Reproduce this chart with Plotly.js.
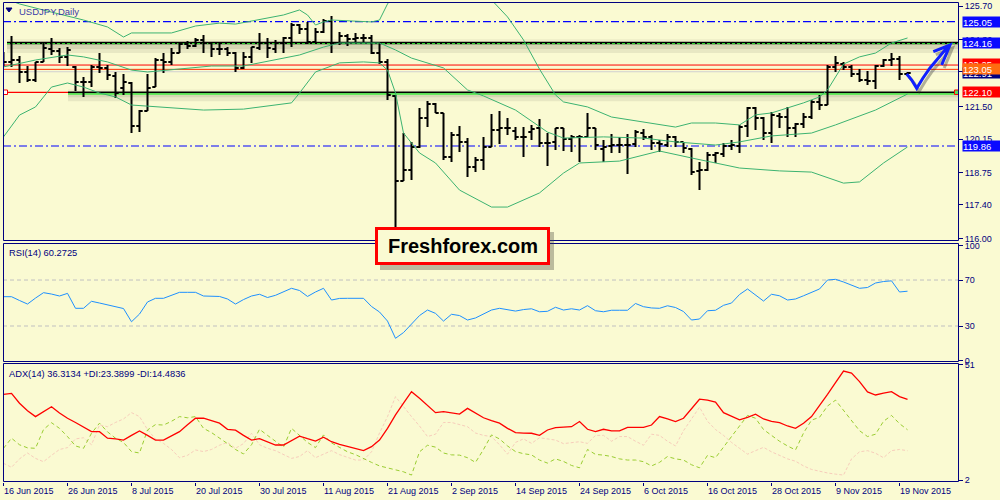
<!DOCTYPE html>
<html><head><meta charset="utf-8">
<script src="https://cdn.plot.ly/plotly-3.0.1.min.js"></script>
<style>html,body{margin:0;padding:0;background:#FAFAD2;}#chart{width:1000px;height:500px;}</style>
</head><body><div id="chart"></div>
<script>
// ---------- data (USDJPY daily, 16 Jun 2015 - 20 Nov 2015) ----------
const open = [123.58,123.37,123.45,122.95,122.62,123.37,123.91,123.83,123.58,123.16,
122.53,122.53,123.16,123.12,122.78,122.28,122.49,120.69,121.32,122.32,
123.45,123.37,123.74,124.12,124.03,124.29,124.16,123.91,123.91,123.74,
123.12,123.58,123.95,124.16,123.91,124.16,124.37,124.91,124.74,124.20,
124.62,125.08,124.16,124.45,124.33,124.37,124.37,123.74,123.37,121.95,
118.40,118.86,119.82,121.03,121.61,121.24,119.40,120.32,120.03,118.98,
119.27,119.82,120.53,120.61,120.49,120.24,120.44,120.61,119.99,120.03,
120.61,120.15,120.24,120.24,120.61,119.73,119.86,119.90,119.90,119.94,
120.40,120.24,119.99,119.90,120.24,120.03,119.73,118.82,118.86,119.48,
119.53,119.86,119.86,120.69,121.45,121.03,120.40,121.11,121.07,120.61,
120.78,121.07,121.70,121.57,123.16,123.28,123.16,122.87,122.62,122.57,
123.20,123.45,123.49,122.87];
const high = [123.78,124.45,123.62,123.20,123.37,124.16,124.37,123.95,123.99,123.20,
122.74,123.24,123.74,123.24,122.95,122.87,122.53,121.36,122.87,123.53,
123.74,123.95,124.16,124.24,124.37,124.49,124.16,124.16,123.99,123.78,
123.78,123.99,124.58,124.37,124.29,124.41,124.99,124.95,125.04,124.79,
125.16,125.29,124.62,124.54,124.58,124.54,124.49,124.20,123.49,121.99,
120.40,120.03,121.45,121.74,121.66,121.24,120.44,120.69,120.19,119.40,
120.24,121.20,121.32,121.03,120.65,120.65,120.74,120.99,120.40,120.61,
120.61,120.32,120.32,121.24,120.61,120.11,120.36,120.24,120.36,120.53,
120.57,120.32,120.11,120.36,120.28,120.03,119.78,119.19,119.61,119.61,
119.99,120.11,120.74,121.49,121.49,121.07,121.28,121.24,121.49,120.82,
121.24,121.78,121.99,123.24,123.62,123.37,123.24,123.07,122.99,123.24,
123.49,123.74,123.62,122.95];
const low = [123.16,123.16,122.49,122.53,122.53,123.37,123.66,123.33,123.20,122.16,
121.91,122.32,122.91,122.62,121.86,121.99,120.40,120.44,121.32,122.32,
122.91,123.24,123.74,123.91,123.99,123.74,123.58,123.66,123.62,122.95,
123.07,123.33,123.87,123.53,123.74,123.74,123.99,124.54,124.12,124.16,
124.58,123.74,124.08,124.03,124.16,124.16,123.70,123.28,121.78,116.15,
118.40,118.44,119.78,120.65,121.24,119.27,119.19,119.61,118.57,118.77,
118.86,119.82,119.94,120.32,120.11,119.40,120.11,119.82,119.02,119.69,
119.65,119.61,119.19,120.24,119.69,119.19,119.57,119.57,118.69,119.82,
120.11,119.69,119.61,119.82,119.82,119.57,118.65,118.02,118.82,119.15,
119.40,119.69,119.57,120.24,120.53,120.11,119.99,120.61,120.24,120.24,
120.61,120.99,121.36,121.57,122.95,123.03,122.74,122.53,122.41,122.24,
123.16,123.20,122.62,122.82];
const close = [123.37,123.45,122.95,122.62,123.37,123.95,123.83,123.58,123.87,122.53,
122.53,123.16,123.12,122.82,122.07,122.53,120.69,121.32,122.28,123.45,
123.37,123.74,124.12,124.03,124.29,124.16,123.91,123.91,123.74,123.12,
123.58,123.99,124.16,123.95,124.16,124.37,124.91,124.74,124.20,124.62,
125.08,124.16,124.45,124.33,124.37,124.37,123.74,123.37,121.99,118.40,
118.86,119.82,121.03,121.61,121.24,119.40,120.32,120.03,118.98,119.27,
119.82,120.53,120.61,120.61,120.24,120.24,120.57,119.99,119.99,120.61,
120.15,120.24,120.24,120.61,119.90,119.82,119.90,119.90,119.90,120.44,
120.24,119.99,119.94,120.24,120.03,119.78,118.77,118.86,119.48,119.57,
119.86,119.90,120.65,121.45,121.03,120.40,121.15,121.07,120.61,120.78,
121.07,121.70,121.57,123.16,123.33,123.16,122.87,122.62,122.57,123.20,
123.45,123.49,122.87,122.91];

// Bollinger bands (read at bar indices)
const bbUpperIdx = [0,2,6,10,13,15,16,21,24,27,29,35,37,38,39,40,41,46,47,48,50,55,58,61,63,65,67,69,70,73,76,80,84,86,89,92,94,96,98,100,102,103,104,105,107,109,111,113];
const bbUpper = [126.04,125.79,125.45,125.12,124.83,124.41,124.58,124.58,124.87,124.99,124.95,125.33,125.54,125.33,124.91,125.04,125.12,125.04,125.12,125.79,126.71,127.12,126.71,125.96,125.25,124.29,123.07,121.99,121.70,121.49,121.07,120.86,120.65,120.82,120.82,120.74,121.16,121.24,121.45,121.66,121.91,122.20,122.74,123.28,123.58,123.74,124.16,124.37];
const bbMidIdx = [0,4,8,10,13,16,18,23,26,30,34,37,40,42,47,49,51,55,58,60,64,68,70,75,80,84,89,92,96,101,104,109,113];
const bbMid = [123.16,123.45,123.66,123.58,123.37,123.03,122.95,123.12,123.20,123.20,123.45,123.66,123.99,124.16,124.16,123.87,123.53,123.12,122.20,121.95,121.36,120.44,120.19,120.24,120.19,120.03,119.90,120.03,120.28,120.40,120.74,121.36,122.03];
const bbLowerIdx = [0,2,4,6,8,10,12,14,16,21,25,30,36,37,39,42,45,47,48,49,50,52,54,57,61,63,67,70,72,77,82,86,92,97,101,105,107,110,113];
const bbLower = [120.24,121.15,121.49,122.32,122.49,122.32,122.07,121.91,121.57,121.45,121.36,121.40,121.66,122.07,122.95,123.33,123.37,123.33,123.03,122.07,120.40,119.57,119.15,118.02,117.31,117.31,117.90,118.73,119.15,119.23,119.65,119.36,118.94,118.82,118.77,118.31,118.36,119.15,119.82];

const rsi = [55.5,55.5,52.2,49.1,54.3,59.0,57.8,56.1,58.4,45.4,
45.4,51.5,50.0,48.3,47.0,45.2,33.7,40.4,50.9,54.1,
54.1,57.0,59.3,59.3,59.3,56.1,55.8,55.7,53.5,49.1,
53.0,56.1,57.6,54.8,56.7,59.6,62.8,60.9,55.7,59.6,
62.8,52.6,54.0,54.1,54.1,54.1,47.0,42.2,34.3,19.3,
24.3,31.7,39.1,43.9,41.0,34.3,40.2,39.1,35.2,37.0,
40.4,43.9,45.4,44.3,43.0,44.3,45.0,42.4,42.8,46.3,
43.9,45.0,43.9,47.7,43.3,42.4,43.7,43.7,43.7,49.6,
46.8,45.7,45.4,47.6,46.1,42.6,35.2,36.1,43.3,43.7,
48.0,50.0,57.4,62.2,56.7,51.7,57.6,56.3,52.6,53.5,
56.3,59.6,62.2,70.0,70.6,68.3,65.7,62.8,63.5,67.4,
68.7,69.3,59.6,60.27];

const adx = [38.5,38.9,34.7,31.5,29.0,31.0,33.2,30.5,28.3,26.5,
24.5,22.6,22.6,19.8,19.5,19.0,21.0,22.9,21.0,19.0,
19.0,20.8,22.6,25.5,28.3,28.3,27.2,26.2,23.6,23.2,
21.0,19.0,19.6,18.2,16.9,16.9,18.8,20.7,19.6,18.6,
20.2,18.3,17.2,16.2,15.5,14.5,16.2,19.0,24.0,29.7,
34.7,39.6,36.8,33.7,30.7,31.1,30.6,30.1,32.5,30.5,
28.5,27.3,26.2,24.0,22.2,22.0,21.9,21.0,23.3,24.3,
24.5,24.7,26.9,23.6,22.6,23.6,22.9,22.9,24.4,24.4,
24.4,25.4,29.0,28.0,26.9,28.3,32.3,36.4,36.0,35.2,
30.7,29.1,27.6,28.7,30.0,28.0,27.0,26.4,25.0,24.0,
26.2,29.0,33.5,38.5,43.5,48.4,47.5,43.9,39.5,38.2,
39.0,39.6,37.5,36.31];
const plusDI = [15.5,19.8,17.0,15.7,15.5,23.5,26.4,24.0,20.5,16.5,
15.5,21.9,26.2,22.5,19.8,18.0,14.1,13.5,23.3,25.6,
25.4,27.0,29.0,28.5,29.0,24.0,22.2,20.0,17.5,15.0,
13.1,17.0,23.6,21.0,18.5,16.0,24.0,21.2,18.0,15.8,
21.2,17.8,16.0,14.0,12.8,11.0,9.5,8.0,7.2,6.5,
5.5,4.1,14.0,16.8,16.0,13.5,12.7,12.6,11.5,9.5,
15.0,21.2,19.5,16.5,14.1,13.2,12.7,10.5,9.2,11.0,
9.9,8.2,7.2,15.0,12.9,12.6,12.0,11.0,10.5,10.5,
9.8,8.0,9.5,12.0,11.0,10.5,8.5,7.2,12.5,11.5,
16.0,21.0,25.4,29.5,28.3,23.5,21.0,18.5,16.5,14.8,
22.0,27.5,28.7,33.5,36.0,31.5,27.5,23.0,20.5,21.5,
27.0,29.5,26.0,23.39];
const minusDI = [9.1,7.4,11.0,13.5,11.2,9.8,12.5,15.0,15.8,19.5,
20.0,17.0,25.4,24.7,26.5,28.0,30.7,29.0,23.5,19.5,
17.6,15.0,11.5,12.5,14.8,14.1,15.0,16.8,18.0,15.5,
17.5,21.9,17.0,15.5,14.5,12.8,11.2,12.0,14.5,11.5,
13.0,14.5,12.8,11.5,10.5,10.5,14.0,22.0,29.0,37.5,
33.0,29.0,25.0,20.5,21.5,26.5,26.5,25.5,24.7,22.0,
21.0,20.5,17.0,13.0,18.0,19.5,17.6,20.0,19.5,19.0,
17.5,18.0,18.3,17.6,21.0,21.0,18.5,20.5,20.5,18.5,
16.8,21.5,21.0,18.5,16.5,23.0,28.0,33.0,27.0,23.5,
21.0,18.0,15.5,13.0,14.5,15.9,14.0,12.5,11.0,10.0,
8.0,6.5,5.6,5.0,4.5,4.1,11.0,14.0,14.5,13.4,
11.5,14.5,15.0,14.48];

const dateTickIdx = [0,8,16,24,32,40,48,56,64,72,80,88,96,104,112];
const dateLabels = ['16 Jun 2015','26 Jun 2015','8 Jul 2015','20 Jul 2015','30 Jul 2015','11 Aug 2015','21 Aug 2015','2 Sep 2015','14 Sep 2015','24 Sep 2015','6 Oct 2015','16 Oct 2015','28 Oct 2015','9 Nov 2015','19 Nov 2015'];
const priceTicks = [116.00,117.40,118.75,120.15,121.50,122.95,124.30,125.70];

// horizontal levels drawn on the chart
const levelDashDot = [125.05, 119.86];
const levelResistance = 124.16;
const levelSupport = 122.10;
const levelRed = [123.24, 123.06];
const levelBid = 122.96;
const priceBoxes = [
  {p:125.05, t:'125.05', c:'#0a0aff'},
  {p:124.16, t:'124.16', c:'#0a0aff'},
  {p:123.28, t:'123.25', c:'#ff0000'},
  {p:122.91, t:'122.91', c:'#000080'},
  {p:123.09, t:'123.05', c:'#ff6a10'},
  {p:122.10, t:'122.10', c:'#ff0000'},
  {p:119.86, t:'119.86', c:'#0a0aff'}
];

// ---------- layout helpers (pixel -> paper) ----------
const px2x = px => (px - 3) / 955;
const py2y = py => (482 - py) / 480;
const ppx = 1 / 23.95; // price per pixel in main panel
const NAVY = '#000080';
const FONT = 'Liberation Sans, Arial, sans-serif';

const barIndex = open.map((_, i) => i);

const traces = [
  {type:'scatter', mode:'lines', x:bbUpperIdx, y:bbUpper, xaxis:'x', yaxis:'y', line:{color:'#3CB371', width:1}, hoverinfo:'skip'},
  {type:'scatter', mode:'lines', x:bbMidIdx, y:bbMid, xaxis:'x', yaxis:'y', line:{color:'#3CB371', width:1}, hoverinfo:'skip'},
  {type:'scatter', mode:'lines', x:bbLowerIdx, y:bbLower, xaxis:'x', yaxis:'y', line:{color:'#3CB371', width:1}, hoverinfo:'skip'},
  {type:'ohlc', x:barIndex, open:open, high:high, low:low, close:close, xaxis:'x', yaxis:'y',
   increasing:{line:{color:'#000000', width:2}}, decreasing:{line:{color:'#000000', width:2}}, tickwidth:0.4, hoverinfo:'skip'},
  {type:'scatter', mode:'lines', x:barIndex, y:rsi, xaxis:'x', yaxis:'y2', line:{color:'#1E90FF', width:1}, hoverinfo:'skip'},
  {type:'scatter', mode:'lines', x:barIndex, y:minusDI, xaxis:'x', yaxis:'y3', line:{color:'#F7CDBB', width:1, dash:'3px,2px'}, hoverinfo:'skip'},
  {type:'scatter', mode:'lines', x:barIndex, y:plusDI, xaxis:'x', yaxis:'y3', line:{color:'#9ACD32', width:1, dash:'4px,3px'}, hoverinfo:'skip'},
  {type:'scatter', mode:'lines', x:barIndex, y:adx, xaxis:'x', yaxis:'y3', line:{color:'#FF0000', width:1.3}, hoverinfo:'skip'}
];

const shapes = [];
function hline(y, x0, x1, color, width, dash, layer, yref) {
  shapes.push({type:'line', xref:'paper', yref:yref||'y', x0:x0, x1:x1, y0:y, y1:y, layer:layer||'below',
    line:{color:color, width:width, dash:dash||'solid'}});
}
function band(yA, yB, x0, x1, fill) {
  shapes.push({type:'rect', xref:'paper', yref:'y', x0:x0, x1:x1, y0:yA, y1:yB, layer:'below', fillcolor:fill, line:{width:0}});
}
// shadows under black levels
band(levelResistance - 10*ppx, levelResistance - 1*ppx, px2x(7), 1, 'rgba(60,60,40,0.09)');
band(levelResistance - 6*ppx, levelResistance - 1*ppx, px2x(7), 1, 'rgba(60,60,40,0.10)');
band(levelResistance + 1*ppx, levelResistance + 4*ppx, px2x(7), 1, 'rgba(60,60,40,0.05)');
band(levelSupport - 9*ppx, levelSupport - 1*ppx, px2x(68), 1, 'rgba(60,60,40,0.09)');
band(levelSupport - 5*ppx, levelSupport - 1*ppx, px2x(68), 1, 'rgba(60,60,40,0.10)');
band(levelSupport + 1*ppx, levelSupport + 3*ppx, px2x(68), 1, 'rgba(60,60,40,0.05)');

levelDashDot.forEach(v => hline(v, 0, 1, '#0000ff', 1.2, '8px,3px,2px,3px'));
hline(levelRed[0], 0, 1, '#ff0000', 1);
hline(levelRed[1], 0, 1, '#ff3000', 1);
hline(levelBid, 0, 1, '#d0d0d0', 1);
hline(levelResistance, px2x(7), 1, '#000000', 2.5);
hline(levelResistance - 0.6*ppx, px2x(7), 1, '#33ee33', 1, '3px,2px');
hline(levelSupport, 0, px2x(68), '#ff0000', 1.3);
hline(levelSupport, px2x(68), 1, '#000000', 1.6);
hline(levelSupport - 1.6*ppx, px2x(68), 1, '#44ee44', 1.4);
// RSI levels
hline(70, 0, 1, '#c0c0c0', 1, '4px,3px', 'below', 'y2');
hline(30, 0, 1, '#c0c0c0', 1, '4px,3px', 'below', 'y2');

// small squares on support line ends
shapes.push({type:'rect', xref:'paper', yref:'paper', x0:px2x(3.5), x1:px2x(7.5), y0:py2y(94.5), y1:py2y(90), layer:'above', fillcolor:'#ffffff', line:{color:'#ff0000', width:1}});
shapes.push({type:'rect', xref:'paper', yref:'paper', x0:px2x(954.5), x1:px2x(958.5), y0:py2y(94.5), y1:py2y(90), layer:'above', fillcolor:'#55dd55', line:{color:'#ff0000', width:1}});

// panel borders (half-pixel positions for crisp 1px lines)
[[2.5,240.5],[243.5,361.5],[363.5,481.5]].forEach(([t,b]) => {
  shapes.push({type:'rect', xref:'paper', yref:'paper', x0:px2x(3.5), x1:px2x(958.5), y0:py2y(b), y1:py2y(t), layer:'above', line:{color:NAVY, width:1}, fillcolor:'rgba(0,0,0,0)'});
});

// header triangle
shapes.push({type:'path', xref:'paper', yref:'paper', layer:'above',
  path:`M${px2x(6)},${py2y(8)} L${px2x(12)},${py2y(8)} L${px2x(9)},${py2y(12)} Z`, fillcolor:NAVY, line:{color:NAVY, width:1}});

// Freshforex box
shapes.push({type:'rect', xref:'paper', yref:'paper', x0:px2x(380), x1:px2x(554), y0:py2y(270), y1:py2y(232), layer:'above', fillcolor:'rgba(70,70,60,0.35)', line:{width:0}});
shapes.push({type:'rect', xref:'paper', yref:'paper', x0:px2x(376.5), x1:px2x(548.5), y0:py2y(263.5), y1:py2y(228.5), layer:'above', fillcolor:'#FAFAD2', line:{color:'#ff0000', width:3}});

// hand-drawn blue arrow
const arrowPts = [[906.7,74],[911.7,80],[916.7,88.3],[923,78],[930,68],[936.7,60],[945,50],[950,45]];
const headPts = [[933.3,51.7],[950,45],[941.7,65]];
function pathFrom(pts, dx, dy) { return pts.map((p,i)=>(i?'L':'M')+px2x(p[0]+dx)+','+py2y(p[1]+dy)).join(' '); }
shapes.push({type:'path', xref:'paper', yref:'paper', layer:'above', path:pathFrom(arrowPts,2.5,3)+' '+pathFrom(headPts,2.5,3), line:{color:'rgba(40,40,40,0.35)', width:3}});
shapes.push({type:'path', xref:'paper', yref:'paper', layer:'above', path:pathFrom(arrowPts,0,0)+' '+pathFrom(headPts,0,0), line:{color:'#1020ff', width:3}});

const annotations = [
  {xref:'paper', yref:'paper', x:px2x(17), y:py2y(11), xanchor:'left', yanchor:'middle', showarrow:false, text:'USDJPY,Daily', font:{family:FONT, size:9.5, color:'#3a3aa8'}},
  {xref:'paper', yref:'paper', x:px2x(7), y:py2y(252.5), xanchor:'left', yanchor:'middle', showarrow:false, text:'RSI(14) 60.2725', font:{family:FONT, size:9.3, color:NAVY}},
  {xref:'paper', yref:'paper', x:px2x(7), y:py2y(374), xanchor:'left', yanchor:'middle', showarrow:false, text:'ADX(14) 36.3134 +DI:23.3899 -DI:14.4836', font:{family:FONT, size:9.3, color:NAVY}},
  {xref:'paper', yref:'paper', x:px2x(463), y:py2y(246), xanchor:'center', yanchor:'middle', showarrow:false, text:'<b>Freshforex.com</b>', font:{family:FONT, size:20, color:'#000000'}}
];
priceBoxes.forEach(b => annotations.push({xref:'paper', yref:'y', x:px2x(962), y:b.p, xanchor:'left', yanchor:'middle',
  showarrow:false, text:b.t, bgcolor:b.c, width:38, height:10, align:'left', borderpad:0,
  font:{family:FONT, size:9.5, color:'#ffffff'}}));

const yCommon = {side:'right', anchor:'x', showgrid:false, zeroline:false, showline:false, ticks:'outside', ticklen:4,
  tickcolor:NAVY, tickfont:{family:FONT, size:9, color:NAVY}, fixedrange:true};

const layout = {
  width:1000, height:500,
  margin:{l:3, r:42, t:2, b:18, pad:0},
  paper_bgcolor:'#FAFAD2', plot_bgcolor:'rgba(0,0,0,0)',
  showlegend:false, hovermode:false, dragmode:false,
  font:{family:FONT, size:9, color:NAVY},
  xaxis:{domain:[0,1], anchor:'y3', range:[-0.0625,119.31], tickvals:dateTickIdx, ticktext:dateLabels,
    ticks:'outside', ticklen:3, tickcolor:NAVY, showgrid:false, zeroline:false, showline:false,
    ticklabelposition:'outside right', rangeslider:{visible:false}, tickfont:{family:FONT, size:9, color:NAVY}, fixedrange:true},
  yaxis:Object.assign({}, yCommon, {domain:[py2y(241),1], range:[115.893,125.872], tickvals:priceTicks, tickformat:'.2f'}),
  yaxis2:Object.assign({}, yCommon, {domain:[py2y(362),py2y(243)], range:[-1.3,102.2], tickvals:[0,30,70,100]}),
  yaxis3:Object.assign({}, yCommon, {domain:[0,py2y(364)], range:[1.15,51.4], tickvals:[2,51]}),
  shapes:shapes,
  annotations:annotations
};

Plotly.newPlot('chart', traces, layout, {staticPlot:true, displayModeBar:false});
</script></body></html>
